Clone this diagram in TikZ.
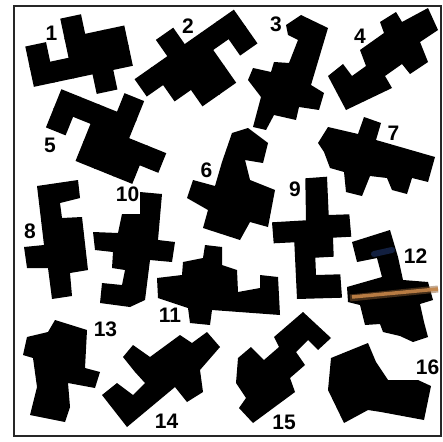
\documentclass[tikz,border=0pt]{standalone}
\usepackage{fontspec}
\setmainfont{Liberation Sans}
\newcommand\piece[4]{\begin{scope}[shift={#1},rotate=#2,scale=#3]\foreach \pa/\pb in {#4}{\fill (\pa-0.03,\pb-0.03) rectangle (\pa+1.03,\pb+1.03);}\end{scope}}
\definecolor{streak}{RGB}{196,132,72}
\definecolor{bluish}{RGB}{40,70,140}
\begin{document}
\begin{tikzpicture}[x=1pt,y=-1pt,lbl/.style={font=\fontsize{21}{21}\selectfont\bfseries,inner sep=0pt}]
\useasboundingbox (0,0) rectangle (443,441);
\fill[white] (0,0) rectangle (443,441);
\draw[line width=2pt,black!85] (14,6) rectangle (441,436);
% 1
\piece{(26,47)}{12}{20}{2/-1,0/0,2/0,3/0,4/0,0/1,1/1,2/1,3/1,4/1,3/2}
% 2
\piece{(156.7,40)}{35}{20}{0/0,-2/1,-1/1,0/1,1/1,2/1,3/1,-1/2,0/2,1/2,3/2,0/3,1/3}
% 3
\fill (286,25)--(301,15)--(328,28)--(311,85)--(324,93)--(319,110)--(299,107)--(296,120)--(274,115)--(266,130)--(253,127)--(261,97)--(248,80)--(253,68)--(271,72)--(274,62)--(289,63)--(298,40)--(288,35)--cycle;
% 4
\fill (328,76)--(343,64)--(352,76)--(366,66)--(360,50)--(384,33)--(380,22)--(396,12)--(402,22)--(428,8)--(438,30)--(420,42)--(428,62)--(410,74)--(402,64)--(385,76)--(392,88)--(346,110)--cycle;
% 5
\piece{(61.7,90)}{-22}{20}{0/0,1/0,2/0,3/0,3/-1,0/1,2/1,3/1,4/1,5/1,2/2,3/2,4/2}
% 6
\fill (232,133)--(248,128)--(268,143)--(263,163)--(245,160)--(250,180)--(275,190)--(268,227)--(250,222)--(240,240)--(203,228)--(208,210)--(187,198)--(193,180)--(215,186)--(222,162)--cycle;
% 7
\fill (318,143)--(328,127)--(358,134)--(364,117)--(381,123)--(376,140)--(435,157)--(428,182)--(412,178)--(407,194)--(392,190)--(387,178)--(370,176)--(362,196)--(346,192)--(344,172)--(330,168)--(324,152)--cycle;
% 8
\fill (37,186)--(78,180)--(80,198)--(60,203)--(62,218)--(82,217)--(88,270)--(70,273)--(72,296)--(52,299)--(48,268)--(27,268)--(24,247)--(44,245)--cycle;
% 9
\fill (305.3,178.3)--(327,176.7)--(328.7,215)--(349.3,214.3)--(351.3,236.7)--(333,237.7)--(333.7,256.7)--(315.3,257.7)--(316,275)--(340.3,274.3)--(342,297.7)--(297,299)--(294.3,242.3)--(273.7,243.3)--(272,222.3)--(306,220.3)--cycle;
% 10
\fill (140,192)--(162,194)--(158,240)--(175,242)--(172,262)--(150,260)--(145,300)--(130,307)--(100,303)--(102,283)--(122,285)--(125,270)--(112,268)--(113,252)--(95,250)--(93,232)--(118,233)--(122,214)--(140,214)--cycle;
% 11
\fill (157,278)--(182,275)--(183,262)--(203,258)--(205,245)--(222,247)--(222,265)--(237,270)--(238,292)--(260,288)--(260,275)--(278,277)--(280,315)--(212,310)--(210,325)--(190,323)--(188,308)--(158,298)--cycle;
% 12
\fill (352,242)--(390,230)--(398,257)--(403,280)--(428,282)--(433,300)--(420,304)--(424,322)--(428,337)--(413,342)--(400,336)--(383,332)--(380,324)--(365,325)--(360,305)--(348,302)--(347,287)--(382,277)--(377,258)--(357,262)--cycle;
\draw[bluish,line width=6pt,line cap=round,opacity=0.45] (374,254)--(392,250);
\draw[streak!70!black,line width=7pt,opacity=0.5] (350,298)--(438,289);
\draw[streak,line width=3.5pt,opacity=0.9] (352,297)--(438,289);
% 13
\fill (27,337)--(48,332)--(55,320)--(87,330)--(85,368)--(100,372)--(95,388)--(68,383)--(70,407)--(65,422)--(30,415)--(37,387)--(33,358)--(23,355)--cycle;
% 14
\fill (123,357)--(133,345)--(150,357)--(180,335)--(192,343)--(207,332)--(220,347)--(200,370)--(203,392)--(187,402)--(175,387)--(127,427)--(102,395)--(117,383)--(133,395)--(145,383)--(135,372)--cycle;
% 15
\fill (303,312)--(331,338)--(318,350)--(308,340)--(296,352)--(305,365)--(290,378)--(295,392)--(253,423)--(239,408)--(246,398)--(236,383)--(238,358)--(251,347)--(264,360)--(279,347)--(274,337)--cycle;
% 16
\fill (331,358)--(368,343)--(376,362)--(388,380)--(418,380)--(431,386)--(424,420)--(381,412)--(368,410)--(344,423)--(328,390)--cycle;
\node[lbl] (l1) at (51.5,33.5) {1};
\node[lbl] (l2) at (188,26) {2};
\node[lbl] (l3) at (276,24) {3};
\node[lbl] (l4) at (360,36.5) {4};
\node[lbl] (l5) at (50,145) {5};
\node[lbl] (l6) at (206.5,170) {6};
\node[lbl] (l7) at (393.5,133.5) {7};
\node[lbl] (l8) at (30,231.5) {8};
\node[lbl] (l9) at (295,189) {9};
\node[lbl] (l10) at (127.5,194) {10};
\node[lbl] (l11) at (170,315) {11};
\node[lbl] (l12) at (415.5,256) {12};
\node[lbl] (l13) at (105.5,329) {13};
\node[lbl] (l14) at (166.5,421) {14};
\node[lbl] (l15) at (284,422.5) {15};
\node[lbl] (l16) at (427.5,367.5) {16};
\end{tikzpicture}
\end{document}
